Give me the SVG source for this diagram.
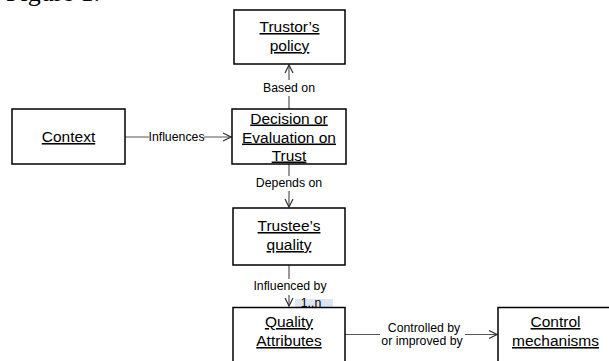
<svg xmlns="http://www.w3.org/2000/svg" width="609" height="361" viewBox="0 0 609 361">
<style>
.box{fill:#fff;stroke:#000;stroke-width:1.5}
.nt{font-family:"Liberation Sans",Arial,sans-serif;font-size:15.5px;text-anchor:middle;text-decoration:underline;fill:#000}
.lb{font-family:"Liberation Sans",Arial,sans-serif;font-size:12.3px;text-anchor:middle;fill:#000}
.cn{fill:none;stroke:#555;stroke-width:1.2}
</style>
<defs>
<marker id="arr" viewBox="0 0 10 10" refX="9" refY="5" markerWidth="10" markerHeight="10" markerUnits="userSpaceOnUse" orient="auto">
<path d="M1,1 L9,5 L1,9" fill="none" stroke="#333" stroke-width="1.2"/>
</marker>
</defs>
<rect width="609" height="361" fill="#fff"/>
<text x="6" y="1" font-family="'Liberation Serif','Times New Roman',serif" font-size="26">Figure 1.</text>
<g id="connectors">
<path class="cn" d="M289,109 L289,96 M289,80 L289,65" marker-end="url(#arr)"/>
<text class="lb" x="289" y="92">Based on</text>
<path class="cn" d="M125,137 L149,137 M204,137 L231,137" marker-end="url(#arr)"/>
<text class="lb" x="176.5" y="141">Influences</text>
<path class="cn" d="M289,164 L289,176 M289,191 L289,207" marker-end="url(#arr)"/>
<text class="lb" x="289" y="187">Depends on</text>
<path class="cn" d="M289,265 L289,279 M289,295 L289,306" marker-end="url(#arr)"/>
<text class="lb" x="290" y="290">Influenced by</text>
<rect x="295" y="299" width="38" height="8.5" fill="#dce6f2"/>
<text class="lb" x="311" y="306.5" font-size="11.5">1..n</text>
<path class="cn" d="M345,334.5 L380,334.5 M465,334.5 L497,334.5" marker-end="url(#arr)"/>
<text class="lb" x="424" y="332">Controlled by</text>
<text class="lb" x="422" y="344.5">or improved by</text>
</g>
<g id="trustor">
<rect class="box" x="234" y="10" width="111" height="54"/>
<text class="nt" x="289.5" y="32">Trustor’s</text>
<text class="nt" x="289.5" y="51">policy</text>
</g>
<g id="context">
<rect class="box" x="12" y="109" width="113" height="55"/>
<text class="nt" x="68.5" y="142">Context</text>
</g>
<g id="decision">
<rect class="box" x="232" y="109" width="114" height="55"/>
<text class="nt" x="289" y="123.5">Decision or</text>
<text class="nt" x="289" y="142.5">Evaluation on</text>
<text class="nt" x="289" y="160.5">Trust</text>
</g>
<g id="trustee">
<rect class="box" x="233" y="208" width="112" height="57"/>
<text class="nt" x="289" y="231">Trustee’s</text>
<text class="nt" x="289" y="250">quality</text>
</g>
<g id="quality">
<rect class="box" x="233" y="307.5" width="112" height="60"/>
<text class="nt" x="289" y="327">Quality</text>
<text class="nt" x="289" y="346">Attributes</text>
</g>
<g id="control">
<rect class="box" x="498" y="307.5" width="115" height="60"/>
<text class="nt" x="555.5" y="327">Control</text>
<text class="nt" x="555.5" y="346">mechanisms</text>
</g>
</svg>
